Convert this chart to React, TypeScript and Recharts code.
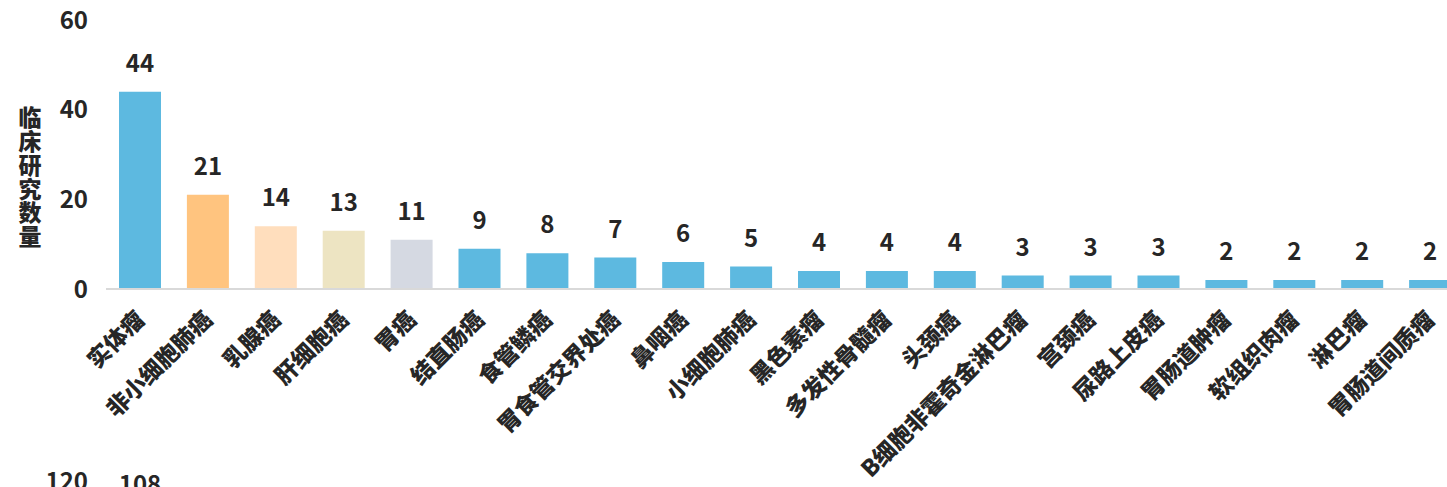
import React from 'react';
import { BarChart, Bar, XAxis, YAxis, Cell, LabelList } from 'recharts';

// cancer types, sorted by number of clinical studies
const categories = [
  '实体瘤', '非小细胞肺癌', '乳腺癌', '肝细胞癌', '胃癌', '结直肠癌', '食管鳞癌',
  '胃食管交界处癌', '鼻咽癌', '小细胞肺癌', '黑色素瘤', '多发性骨髓瘤', '头颈癌',
  'B细胞非霍奇金淋巴瘤', '宫颈癌', '尿路上皮癌', '胃肠道肿瘤', '软组织肉瘤', '淋巴瘤', '胃肠道间质瘤',
];
const studyCounts = [44, 21, 14, 13, 11, 9, 8, 7, 6, 5, 4, 4, 4, 3, 3, 3, 2, 2, 2, 2];
const yTicks = [0, 20, 40, 60];

// the next chart on the page, only its top edge shows
const nextCategories = [''];
const nextValues = [108];
const nextTicks = [120];

const BLUE = '#5DB9E0';
const highlight: Record<number, string> = { 1: '#FFC47F', 2: '#FFDEBD', 3: '#EDE4C2', 4: '#D5D9E2' };

const FONT = "'Noto Sans CJK SC', 'Noto Sans', sans-serif";
const TEXT = '#262626';

const data = categories.map((name, i) => ({ name, count: studyCounts[i] }));
const nextData = nextCategories.map((name, i) => ({ name, count: nextValues[i] }));

const CategoryTick = ({ x, y, payload }: any) => (
  <g transform={`translate(${x + 6},${y + 24})`}>
    <text x={0} y={0} transform="rotate(-45)" textAnchor="end" fill={TEXT}
      fontSize={23} fontWeight={900} fontFamily={FONT}>
      {payload.value}
    </text>
  </g>
);

export default function App() {
  return (
    <div style={{ position: 'fixed', left: 0, top: 0, width: 1447, height: 487, overflow: 'hidden', background: '#fff' }}>
      <div style={{
        position: 'absolute', left: 13, top: 106, writingMode: 'vertical-rl', textOrientation: 'upright',
        fontFamily: FONT, fontWeight: 900, fontSize: 23, letterSpacing: 0.8, color: TEXT,
      }}>
        临床研究数量
      </div>
      <div style={{ position: 'absolute', left: 0, top: 0 }}>
        <BarChart width={1464} height={487} data={data} margin={{ top: 20, right: 0, bottom: 0, left: 0 }}>
          <XAxis dataKey="name" interval={0} height={198} tickLine={false}
            axisLine={{ stroke: '#D9D9D9', strokeWidth: 2 }} tick={<CategoryTick />} />
          <YAxis width={106} domain={[0, 60]} ticks={yTicks} axisLine={false} tickLine={false} tickMargin={12}
            tick={{ fill: TEXT, fontSize: 24, fontWeight: 700, fontFamily: FONT }} />
          <Bar dataKey="count" barSize={42} isAnimationActive={false}>
            {data.map((d, i) => <Cell key={d.name} fill={highlight[i] ?? BLUE} />)}
            <LabelList dataKey="count" position="top" offset={20} fill={TEXT}
              fontSize={24} fontWeight={700} fontFamily={FONT} />
          </Bar>
        </BarChart>
      </div>
      <div style={{ position: 'absolute', left: 0, top: 463 }}>
        <BarChart width={174} height={338} data={nextData} margin={{ top: 18, right: 0, bottom: 0, left: 0 }}>
          <XAxis dataKey="name" hide />
          <YAxis width={106} domain={[0, 120]} ticks={nextTicks} axisLine={false} tickLine={false} tickMargin={12}
            tick={{ fill: TEXT, fontSize: 24, fontWeight: 700, fontFamily: FONT }} />
          <Bar dataKey="count" barSize={42} fill={BLUE} isAnimationActive={false}>
            <LabelList dataKey="count" position="top" offset={20} fill={TEXT}
              fontSize={24} fontWeight={700} fontFamily={FONT} />
          </Bar>
        </BarChart>
      </div>
    </div>
  );
}
